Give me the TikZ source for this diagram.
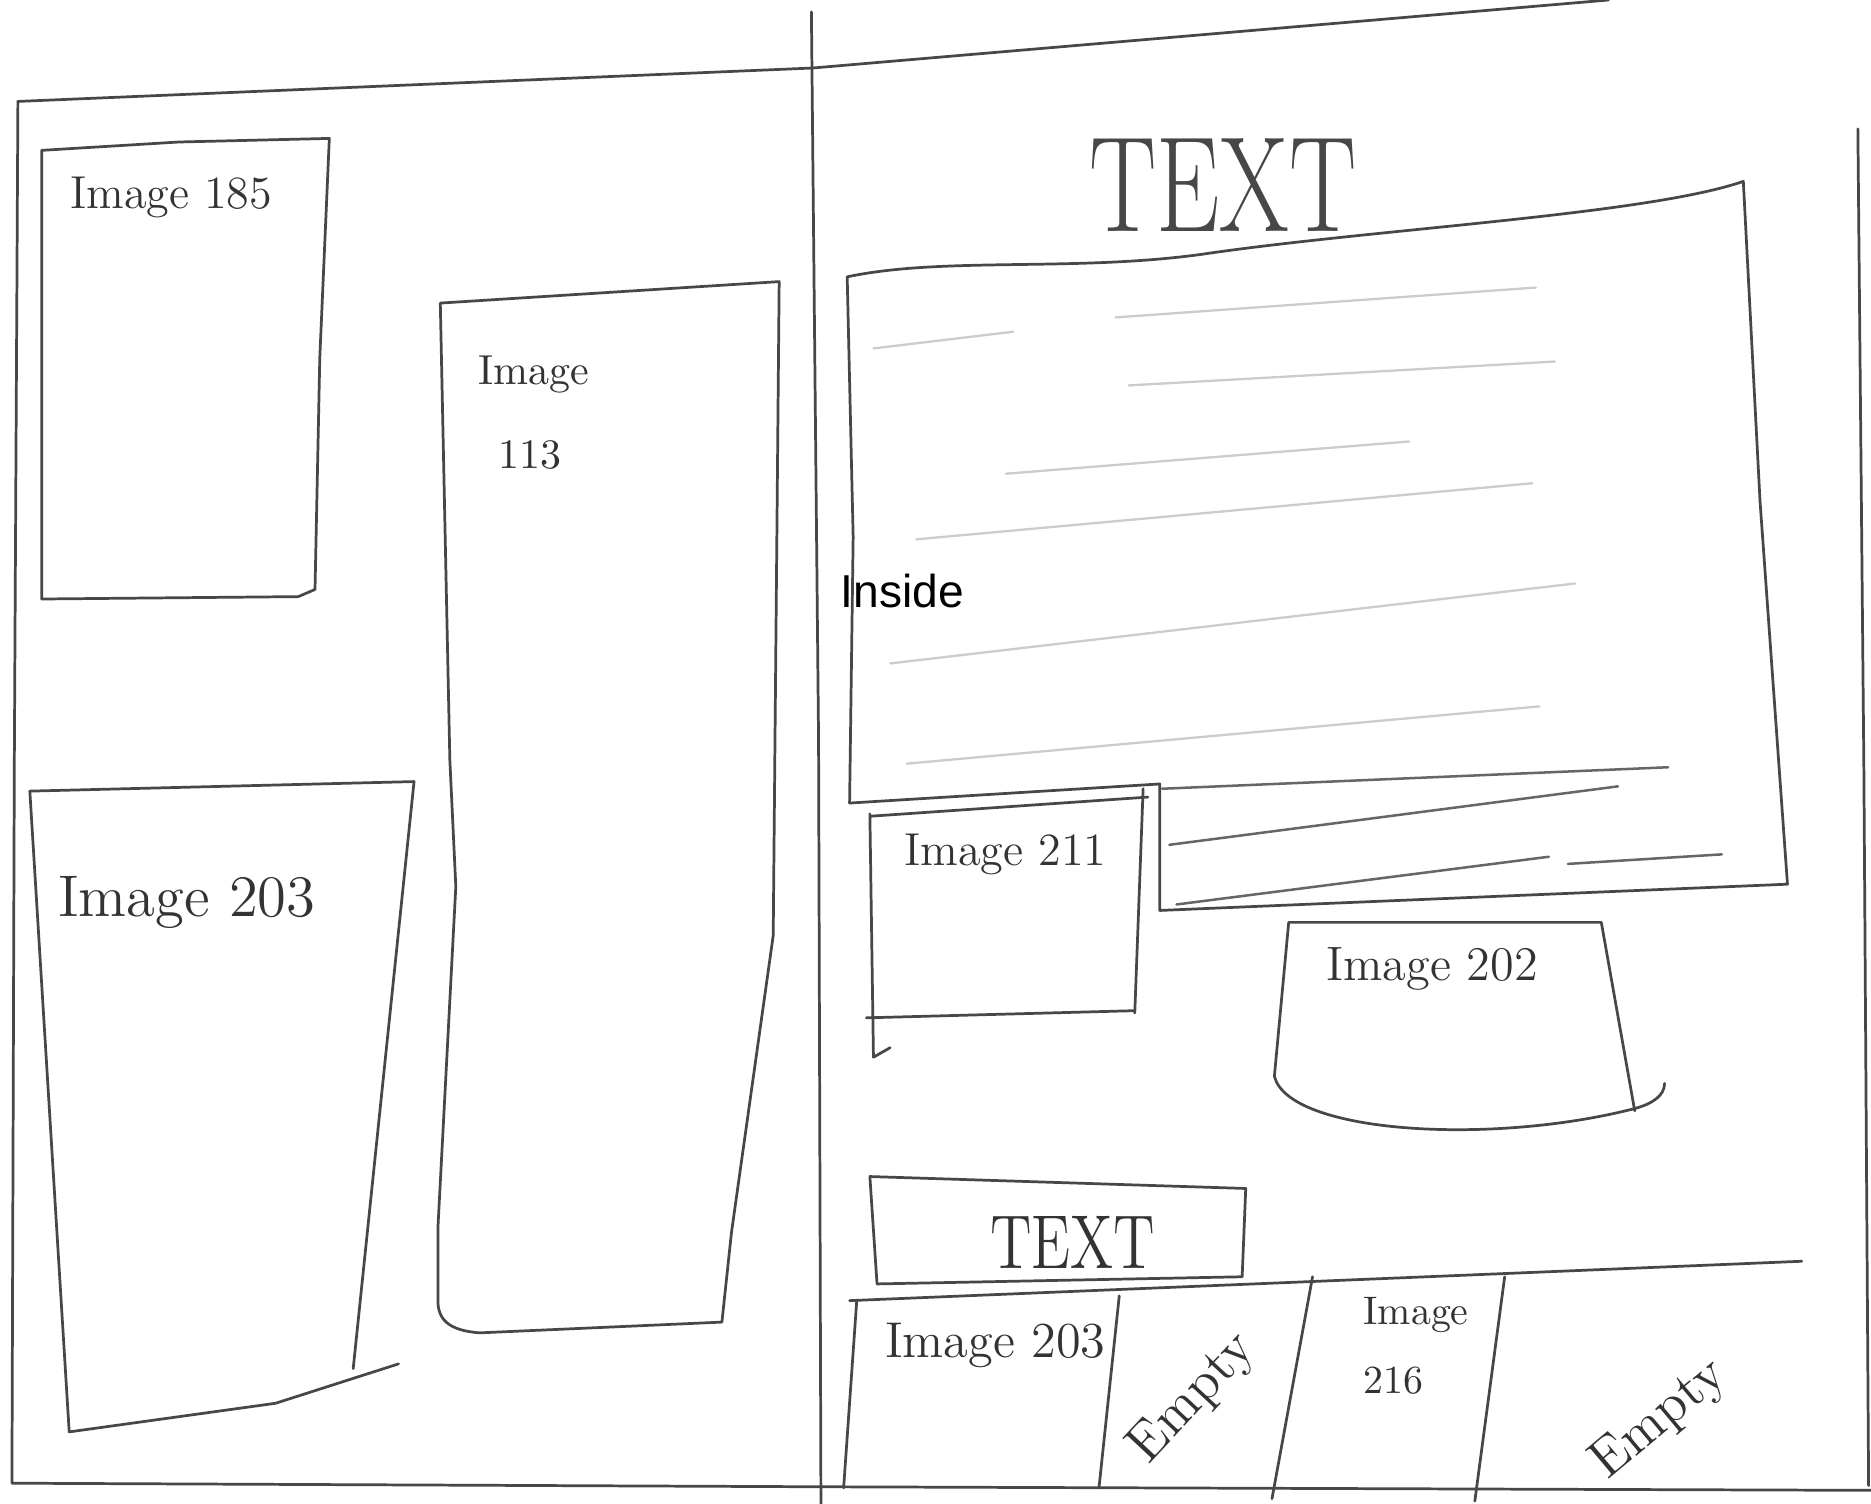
\documentclass[tikz,border=0pt]{standalone}
\usepackage{fontspec}
\newfontfamily\insidefont{Liberation Sans}

\begin{document}
\begin{tikzpicture}[
    x=0.01cm, y=-0.01cm,
    sketch/.style={draw=black!72, line width=0.65pt, line join=round, line cap=round},
    faint/.style={draw=black!20, line width=0.55pt, line cap=round},
    textline/.style={draw=black!60, line width=0.6pt, line cap=round},
    hand/.style={anchor=base west, inner sep=0pt, text=black!80, font=\fontsize{11}{13}\selectfont},
    handbig/.style={hand, font=\fontsize{14}{16}\selectfont},
    handsmall/.style={hand, font=\fontsize{9.5}{11}\selectfont},
    empty/.style={inner sep=0pt, text=black!80, font=\fontsize{13}{15}\selectfont},
]
\useasboundingbox[fill=white] (0,0) rectangle (1568,1260);

% Sheet
\draw[sketch] (15,85) -- (681,57) -- (1348,0);
\draw[sketch] (15,85) -- (12,640) -- (10,1243) -- (688,1246) -- (1568,1249);
\draw[sketch] (680,10) -- (686,620) -- (688,1260);
\draw[sketch] (1557,108) -- (1562,640) -- (1566,1245);

% Left page
\draw[sketch] (35,126) -- (150,119) -- (276,116) -- (268,300) -- (264,494)
  -- (250,500) -- (35,502) -- cycle;
\node[hand] (img185) at (58,175) {Image 185};

\draw[sketch] (369,254) -- (653,236) -- (648,784) -- (613,1033) -- (605,1108)
  -- (402,1117) .. controls (375,1115) and (367,1105) .. (367,1090)
  -- (367,1029) -- (382,743) -- (377,637) -- cycle;
\node[hand, font=\fontsize{10}{12}\selectfont] (img113) at (400,322) {Image};
\node[hand, font=\fontsize{10}{12}\selectfont] (img113num) at (417,393) {113};

\draw[sketch] (25,663) -- (347,655) -- (296,1147);
\draw[sketch] (25,663) -- (58,1200) -- (231,1176) -- (334,1143);
\node[handbig] (img203) at (48,768) {Image 203};

% Right page
\node[hand, text=black!72, font=\fontsize{24}{28}\selectfont] (title) at (912,194) {\scalebox{1}[1.35]{TEXT}};

\draw[sketch] (710,232) .. controls (790,215) and (900,228) .. (1008,213)
  .. controls (1150,192) and (1380,180) .. (1461,152) -- (1475,420) -- (1498,741)
  -- (972,763) -- (972,657) -- (712,673) -- (715,450) -- cycle;
\draw[faint] (732,292) -- (849,278);
\draw[faint] (935,266) -- (1287,241);
\draw[faint] (946,323) -- (1303,303);
\draw[faint] (843,397) -- (1181,370);
\draw[faint] (768,452) -- (1284,405);
\draw[faint] (746,556) -- (1320,489);
\draw[faint] (760,640) -- (1290,592);
\draw[textline] (974,661) -- (1398,643);
\draw[textline] (980,708) -- (1356,659);
\draw[textline] (986,758) -- (1298,718);
\draw[textline] (1314,724) -- (1443,716);
\node[anchor=base west, inner sep=0pt, font=\insidefont\fontsize{11}{13}\selectfont] (inside) at (704,509) {Inside};

% Image 211
\draw[sketch] (730,684) -- (962,668);
\draw[sketch] (958,661) -- (951,849);
\draw[sketch] (726,853) -- (951,847);
\draw[sketch] (729,682) -- (732,886) -- (746,878);
\node[hand] (img211) at (757,725) {Image 211};

% Image 202
\draw[sketch] (1068,902) -- (1080,773) -- (1342,773) -- (1370,931);
\draw[sketch] (1068,902) .. controls (1080,950) and (1250,960) .. (1370,929)
  .. controls (1385,925) and (1395,918) .. (1395,908);
\node[hand, font=\fontsize{11.5}{13}\selectfont] (img202) at (1111,822) {Image 202};

% Text box
\draw[sketch] (729,986) -- (1044,996) -- (1041,1070) -- (735,1076) -- cycle;
\node[hand, anchor=base, font=\fontsize{14}{16}\selectfont] (textbox) at (899,1063) {\scalebox{1}[1.3]{TEXT}};

% Bottom row
\draw[sketch] (712,1090) -- (1510,1057);
\draw[sketch] (718,1090) -- (707,1247);
\draw[sketch] (938,1086) -- (921,1247);
\draw[sketch] (1100,1070) -- (1066,1256);
\draw[sketch] (1261,1070) -- (1236,1258);
\node[hand, font=\fontsize{12}{14}\selectfont] (img203b) at (741,1138) {Image 203};
\node[empty, rotate=47] (empty1) at (1000,1172) {Empty};
\node[handsmall] (img216) at (1142,1110) {Image};
\node[handsmall] (img216num) at (1142,1168) {216};
\node[empty, rotate=40] (empty2) at (1391,1190) {Empty};
\end{tikzpicture}
\end{document}
